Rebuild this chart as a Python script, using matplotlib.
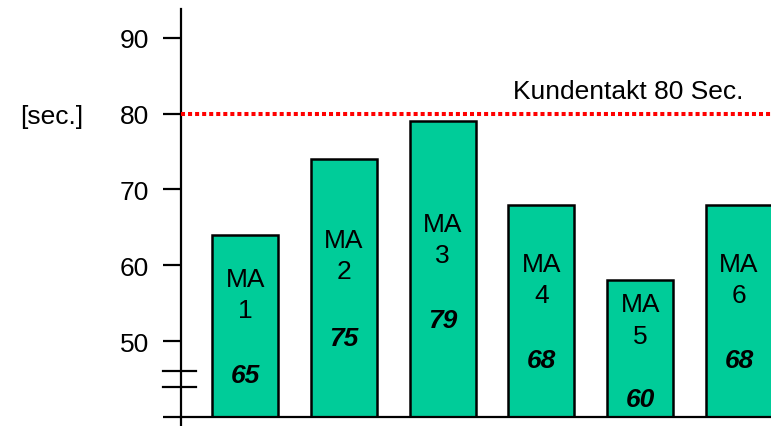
import matplotlib.pyplot as plt
import matplotlib.transforms as mtransforms

plt.rcParams['font.family'] = ['Liberation Sans', 'DejaVu Sans']

# data
stations = ['MA\n1', 'MA\n2', 'MA\n3', 'MA\n4', 'MA\n5', 'MA\n6']
bar_heights = [64, 74, 79, 68, 58, 68]
value_labels = ['65', '75', '79', '68', '60', '68']
takt = 80
takt_label = 'Kundentakt 80 Sec.'
y_ticks = [40, 50, 60, 70, 80, 90]
y_tick_labels = ['', '50', '60', '70', '80', '90']

# label placement (layout only)
name_y = [56.2, 61.3, 63.4, 58.1, 52.8, 58.1]
value_y = [45.6, 50.4, 52.8, 47.5, 42.4, 47.5]

fig = plt.figure(figsize=(7.71, 4.27), dpi=100)
ax = fig.add_axes([181 / 771, 9 / 427, 1 - 181 / 771, 408 / 427])

x = list(range(len(bar_heights)))
ax.bar(x, [h - 40 for h in bar_heights], bottom=40, width=0.67,
       color='#00CC99', edgecolor='black', linewidth=1.8, zorder=2)

for xi, name, ny, val, vy in zip(x, stations, name_y, value_labels, value_y):
    ax.text(xi, ny, name, ha='center', va='center', fontsize=19,
            linespacing=1.38, zorder=3)
    ax.text(xi, vy, val, ha='center', va='center', fontsize=19,
            fontweight='bold', fontstyle='italic', zorder=3)

ax.axhline(takt, color='#FF0000', linewidth=2.9, linestyle=(0, (1, 0.75)),
           zorder=4)
ax.text(3.88, takt + 2, takt_label, ha='center', va='baseline', fontsize=19)

ax.set_xlim(-0.65, 5.325)
ax.set_ylim(40, 93.8)
ax.set_xticks([])
ax.set_yticks(y_ticks)
ax.set_yticklabels(y_tick_labels, fontsize=19)
ax.tick_params(axis='y', direction='out', length=13, width=1.6, pad=10)

for side in ['top', 'right']:
    ax.spines[side].set_visible(False)
ax.spines['left'].set_linewidth(1.6)
ax.spines['bottom'].set_linewidth(1.6)

# axis break marks and spine stub below the baseline
trans = mtransforms.blended_transform_factory(ax.transAxes, ax.transData)
for yb in [46, 44]:
    ax.plot([-0.0305, 0.0254], [yb, yb], color='black', linewidth=1.6,
            transform=trans, clip_on=False, zorder=5)
ax.plot([0, 0], [40, 38.6], color='black', linewidth=1.6,
        transform=trans, clip_on=False)

fig.text(20 / 771, 1 - 117 / 427, '[sec.]', ha='left', va='center',
         fontsize=19)

fig.savefig('out.png', dpi=100)
